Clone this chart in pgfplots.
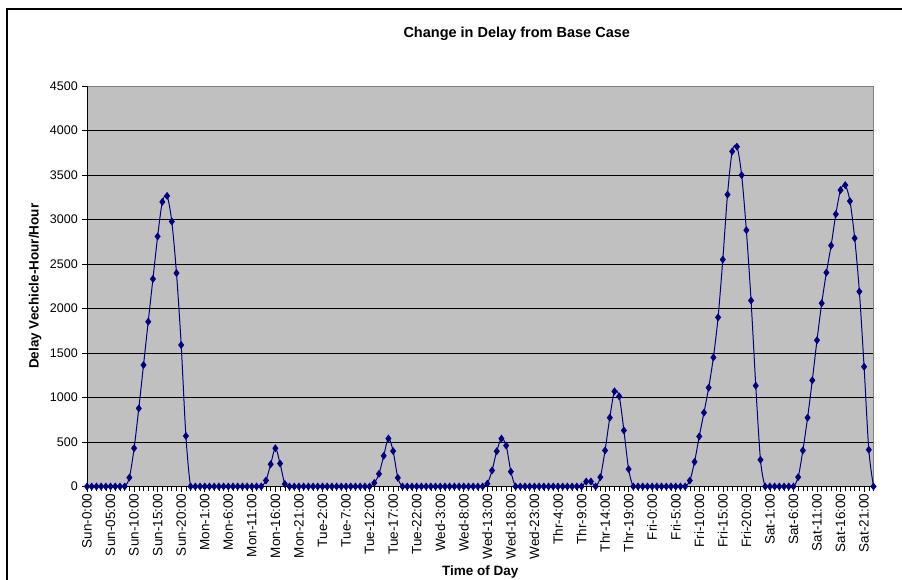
\documentclass[border=0pt]{standalone}
\usepackage{pgfplots}
\pgfplotsset{compat=1.18}
\usepackage{fontspec}
\setmainfont{Liberation Sans}
\definecolor{plotgray}{HTML}{C0C0C0}
\definecolor{bordergray}{HTML}{808080}
\definecolor{navyline}{HTML}{000080}
\begin{document}
\begin{tikzpicture}[x=1pt,y=1pt]
\path[use as bounding box] (0,0) rectangle (902,579);
\draw[black,line width=1.2pt] (7,-2) -- (7,570) -- (904,570);
\begin{axis}[
  at={(87pt,92.5pt)}, anchor=south west,
  scale only axis, width=786.5pt, height=400.5pt,
  xmin=0, xmax=167, ymin=0, ymax=4500,
  axis background/.style={fill=plotgray},
  axis line style={draw=bordergray, line width=0.8pt},
  ytick={0,500,...,4500},
  xtick={0,5,...,165},
  minor xtick={0,1,...,167},
  xticklabels={Sun-0:00,Sun-05:00,Sun-10:00,Sun-15:00,Sun-20:00,Mon-1:00,Mon-6:00,Mon-11:00,Mon-16:00,Mon-21:00,Tue-2:00,Tue-7:00,Tue-12:00,Tue-17:00,Tue-22:00,Wed-3:00,Wed-8:00,Wed-13:00,Wed-18:00,Wed-23:00,Thr-4:00,Thr-9:00,Thr-14:00,Thr-19:00,Fri-0:00,Fri-5:00,Fri-10:00,Fri-15:00,Fri-20:00,Sat-1:00,Sat-6:00,Sat-11:00,Sat-16:00,Sat-21:00},
  tick pos=left, tick align=outside,
  major tick length=5pt, minor tick length=4pt,
  every tick/.style={black, line width=0.6pt},
  ymajorgrids, major grid style={black, line width=0.8pt},
  /pgf/number format/assume math mode=true,
  scaled y ticks=false,
  yticklabel={\pgfmathprintnumber[fixed,1000 sep={}]{\tick}},
  tick label style={font=\fontsize{12.5}{14}\selectfont},
  xticklabel style={rotate=90, anchor=east, inner sep=0pt, xshift=-2pt, font=\fontsize{13.5}{15}\selectfont},
  yticklabel style={anchor=east, inner sep=0pt, xshift=-4pt, font=\fontsize{12.5}{14}\selectfont},
  xlabel={Time of Day},
  ylabel={Delay Vechicle-Hour/Hour},
  xlabel style={at={(axis description cs:0.5,-0.2135)}, anchor=center, font=\bfseries\fontsize{13.5}{15}\selectfont},
  ylabel style={at={(axis description cs:-0.0661,0.5)}, anchor=center, rotate=0, font=\bfseries\fontsize{13.5}{15}\selectfont},
  title={Change in Delay from Base Case},
  title style={at={(axis description cs:0.5464,1.1149)}, anchor=center, font=\bfseries\fontsize{14.5}{16}\selectfont},
]
\draw[black, line width=0.9pt] (rel axis cs:0,1) -- (rel axis cs:0,0) -- (rel axis cs:1,0);
\addplot[navyline, line width=1pt, smooth, tension=0.5, mark=diamond*, mark size=3.2pt, mark options={fill=navyline, draw=navyline}] coordinates {
(0,0)(1,0)(2,0)(3,0)(4,0)(5,0)(6,0)(7,0)(8,0)(9,100)
(10,430)(11,878)(12,1365)(13,1852)(14,2332)(15,2810)(16,3198)(17,3265)(18,2978)(19,2398)
(20,1590)(21,568)(22,0)(23,0)(24,0)(25,0)(26,0)(27,0)(28,0)(29,0)
(30,0)(31,0)(32,0)(33,0)(34,0)(35,0)(36,0)(37,0)(38,68)(39,250)
(40,430)(41,258)(42,28)(43,0)(44,0)(45,0)(46,0)(47,0)(48,0)(49,0)
(50,0)(51,0)(52,0)(53,0)(54,0)(55,0)(56,0)(57,0)(58,0)(59,0)
(60,0)(61,41)(62,142)(63,345)(64,540)(65,398)(66,98)(67,0)(68,0)(69,0)
(70,0)(71,0)(72,0)(73,0)(74,0)(75,0)(76,0)(77,0)(78,0)(79,0)
(80,0)(81,0)(82,0)(83,0)(84,0)(85,32)(86,180)(87,396)(88,538)(89,460)
(90,167)(91,0)(92,0)(93,0)(94,0)(95,0)(96,0)(97,0)(98,0)(99,0)
(100,0)(101,0)(102,0)(103,0)(104,0)(105,0)(106,56)(107,56)(108,0)(109,105)
(110,405)(111,773)(112,1069)(113,1013)(114,630)(115,195)(116,0)(117,0)(118,0)(119,0)
(120,0)(121,0)(122,0)(123,0)(124,0)(125,0)(126,0)(127,0)(128,67)(129,277)
(130,563)(131,830)(132,1110)(133,1450)(134,1900)(135,2550)(136,3280)(137,3765)(138,3818)(139,3499)
(140,2880)(141,2090)(142,1133)(143,300)(144,0)(145,0)(146,0)(147,0)(148,0)(149,0)
(150,0)(151,105)(152,405)(153,773)(154,1193)(155,1643)(156,2059)(157,2404)(158,2708)(159,3060)
(160,3330)(161,3386)(162,3206)(163,2790)(164,2190)(165,1346)(166,413)(167,0)
};
\end{axis}
\end{tikzpicture}
\end{document}
